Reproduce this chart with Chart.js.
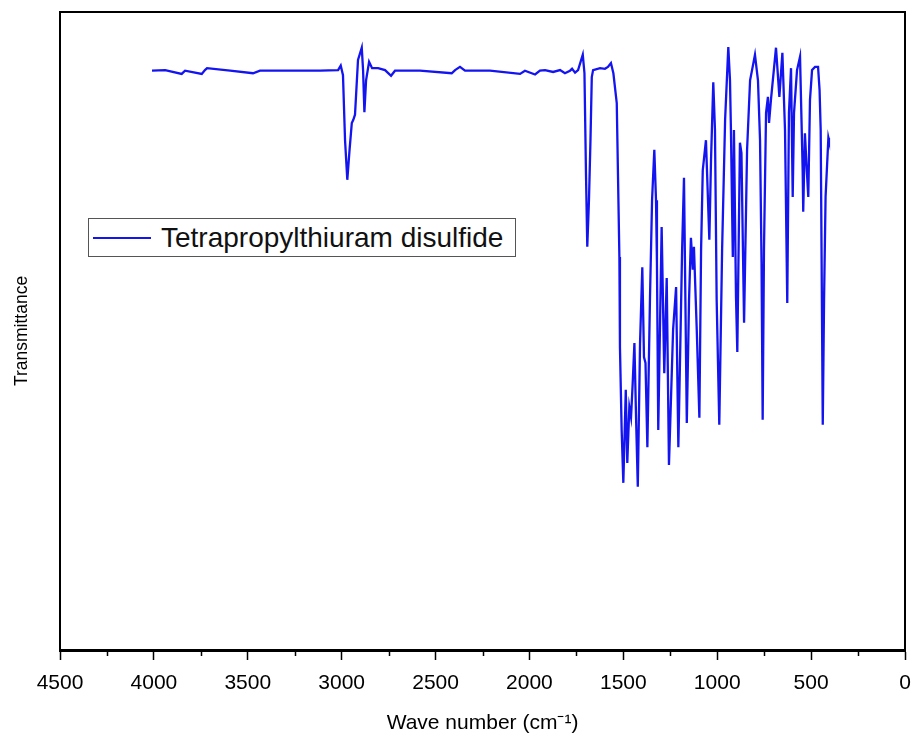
<!DOCTYPE html>
<html>
<head>
<meta charset="utf-8">
<script src="https://cdn.jsdelivr.net/npm/chart.js@4.4.1/dist/chart.umd.min.js"></script>
<style>
  html, body { margin: 0; padding: 0; background: #fff; }
  #wrap { position: relative; width: 919px; height: 736px; }
  #legend {
    position: absolute; left: 88px; top: 218px; width: 428px; height: 39px;
    box-sizing: border-box; border: 1px solid #555; background: #fff;
    font-family: "Liberation Sans", Arial, sans-serif; font-size: 28px; color: #111;
    display: flex; align-items: center;
  }
  #legend .swatch { width: 58px; height: 0; border-top: 2px solid #1414f0; margin: 0 10px 0 4px; }
</style>
</head>
<body>
<div id="wrap">
  <canvas id="ftir" width="919" height="736"></canvas>
  <div id="legend"><span class="swatch"></span><span>Tetrapropylthiuram disulfide</span></div>
</div>
<script>
// spectrum (cm-1 / transmittance, arbitrary %)
const waveNumbers = [
  4010, 3940, 3852, 3834, 3745, 3728, 3717, 3594, 3472, 3435, 3275, 3115, 3019, 3005, 2993,
  2982, 2970, 2958, 2946, 2938, 2929, 2913, 2893, 2886, 2879, 2870, 2854, 2838, 2806, 2769,
  2737, 2716, 2583, 2414, 2396, 2370, 2343, 2210, 2050, 2024, 1970, 1944, 1917, 1874, 1837,
  1811, 1784, 1773, 1757, 1741, 1716, 1707, 1699, 1692, 1683, 1675, 1668, 1661, 1624, 1598,
  1582, 1566, 1553, 1535, 1521, 1518, 1509, 1500, 1487, 1479, 1468, 1459, 1450, 1441, 1432,
  1423, 1411, 1399, 1390, 1382, 1372, 1358, 1347, 1335, 1326, 1321, 1314, 1296, 1282, 1269,
  1257, 1235, 1219, 1207, 1195, 1187, 1177, 1162, 1150, 1140, 1130, 1124, 1109, 1095, 1086,
  1077, 1060, 1042, 1033, 1021, 1012, 1003, 989, 974, 958, 941, 932, 927, 917, 911,
  900, 893, 879, 871, 857, 841, 825, 799, 783, 772, 764, 758, 751, 740, 730,
  724, 714, 687, 669, 653, 639, 627, 618, 607, 598, 591, 575, 559, 545, 542,
  533, 523, 515, 506, 495, 479, 463, 455, 449, 444, 438, 431, 423, 408, 405
];
const transmittance = [
  90.8, 90.9, 90.3, 90.8, 90.3, 90.9, 91.2, 90.8, 90.4, 90.8, 90.8, 90.8, 90.9, 91.6, 90.1,
  79.9, 73.7, 78.4, 82.6, 83.1, 83.9, 92.5, 94.4, 90.9, 84.3, 89.3, 92.2, 91.2, 91.2, 90.9,
  90.0, 90.8, 90.8, 90.4, 90.9, 91.4, 90.8, 90.8, 90.3, 90.8, 90.2, 90.8, 90.9, 90.6, 90.9,
  90.4, 90.8, 91.1, 90.5, 90.9, 93.3, 90.4, 74.8, 63.2, 70.5, 79.9, 89.8, 90.9, 91.2, 91.1,
  91.4, 92.0, 90.4, 85.7, 61.6, 47.5, 34.5, 26.2, 40.8, 29.3, 38.1, 36.5, 41.9, 48.1, 36.1,
  25.6, 48.1, 60.0, 45.9, 45.0, 31.8, 55.3, 70.5, 78.4, 70.5, 60.7, 34.5, 66.3, 43.4, 58.3,
  29.0, 50.2, 56.9, 31.8, 50.2, 62.7, 74.0, 35.6, 54.9, 64.6, 59.6, 63.2, 50.2, 36.4, 62.7,
  75.2, 79.9, 64.3, 76.8, 89.0, 81.5, 54.9, 35.3, 62.7, 83.1, 94.5, 89.3, 81.5, 61.6, 81.5,
  55.3, 46.7, 79.5, 77.9, 51.3, 78.4, 89.3, 93.3, 89.3, 79.9, 60.7, 36.1, 62.7, 84.2, 86.7,
  82.6, 86.2, 94.4, 86.7, 93.6, 81.5, 54.4, 84.2, 91.2, 71.0, 84.2, 90.9, 93.0, 75.2, 68.7,
  81.0, 75.2, 71.0, 86.2, 90.9, 91.4, 91.4, 87.8, 81.5, 60.7, 35.3, 54.9, 71.0, 80.3, 79.9
];
const xTicks = [4500, 4000, 3500, 3000, 2500, 2000, 1500, 1000, 500, 0];
const seriesName = "Tetrapropylthiuram disulfide";

const points = waveNumbers.map((w, i) => ({ x: w, y: transmittance[i] }));

// frame on top/right + minor ticks between the labelled ones
const framePlugin = {
  id: "frame",
  afterDraw(chart) {
    const { ctx, chartArea: a } = chart;
    const xs = chart.scales.x;
    ctx.save();
    ctx.strokeStyle = "#000";
    ctx.lineWidth = 2;
    ctx.beginPath();
    ctx.moveTo(a.left, a.top);
    ctx.lineTo(a.right, a.top);
    ctx.lineTo(a.right, a.bottom);
    ctx.stroke();
    ctx.lineWidth = 1.5;
    for (let i = 0; i < xTicks.length - 1; i++) {
      const px = Math.round(xs.getPixelForValue((xTicks[i] + xTicks[i + 1]) / 2)) + 0.5;
      ctx.beginPath();
      ctx.moveTo(px, a.bottom);
      ctx.lineTo(px, a.bottom + 6);
      ctx.stroke();
    }
    ctx.restore();
  }
};

new Chart(document.getElementById("ftir"), {
  type: "line",
  data: {
    datasets: [{
      label: seriesName,
      data: points,
      borderColor: "#1414f0",
      borderWidth: 2.3,
      pointRadius: 0,
      tension: 0,
      fill: false
    }]
  },
  options: {
    responsive: false,
    animation: false,
    layout: { padding: { left: 0, top: 12, right: 14, bottom: 0 } },
    plugins: { legend: { display: false }, tooltip: { enabled: false } },
    scales: {
      x: {
        type: "linear",
        reverse: true,
        min: 0,
        max: 4500,
        afterFit(s) {
          s.height = 86;
          s.paddingLeft = 0;
          s.paddingRight = 14;
        },
        afterBuildTicks(s) { s.ticks = xTicks.map(v => ({ value: v })); },
        ticks: {
          color: "#000",
          padding: 11,
          font: { family: "'Liberation Sans', Arial", size: 21 },
          maxRotation: 0,
          autoSkip: false,
          callback: v => String(v)
        },
        grid: { drawOnChartArea: false, tickLength: 10, tickColor: "#000", tickWidth: 1.5 },
        border: { color: "#000", width: 3 },
        title: {
          display: true,
          text: "Wave number (cm⁻¹)",
          color: "#000",
          font: { family: "'Liberation Sans', Arial", size: 21 },
          padding: { top: 2, bottom: 0 }
        }
      },
      y: {
        min: 0,
        max: 100,
        afterFit(s) { s.width = 60; },
        ticks: { display: false },
        grid: { display: false },
        border: { color: "#000", width: 2 },
        title: {
          display: true,
          text: "Transmittance",
          color: "#000",
          font: { family: "'Liberation Sans', Arial", size: 17.5 },
          padding: { top: 12, bottom: 0 }
        }
      }
    }
  },
  plugins: [framePlugin]
});
</script>
</body>
</html>
